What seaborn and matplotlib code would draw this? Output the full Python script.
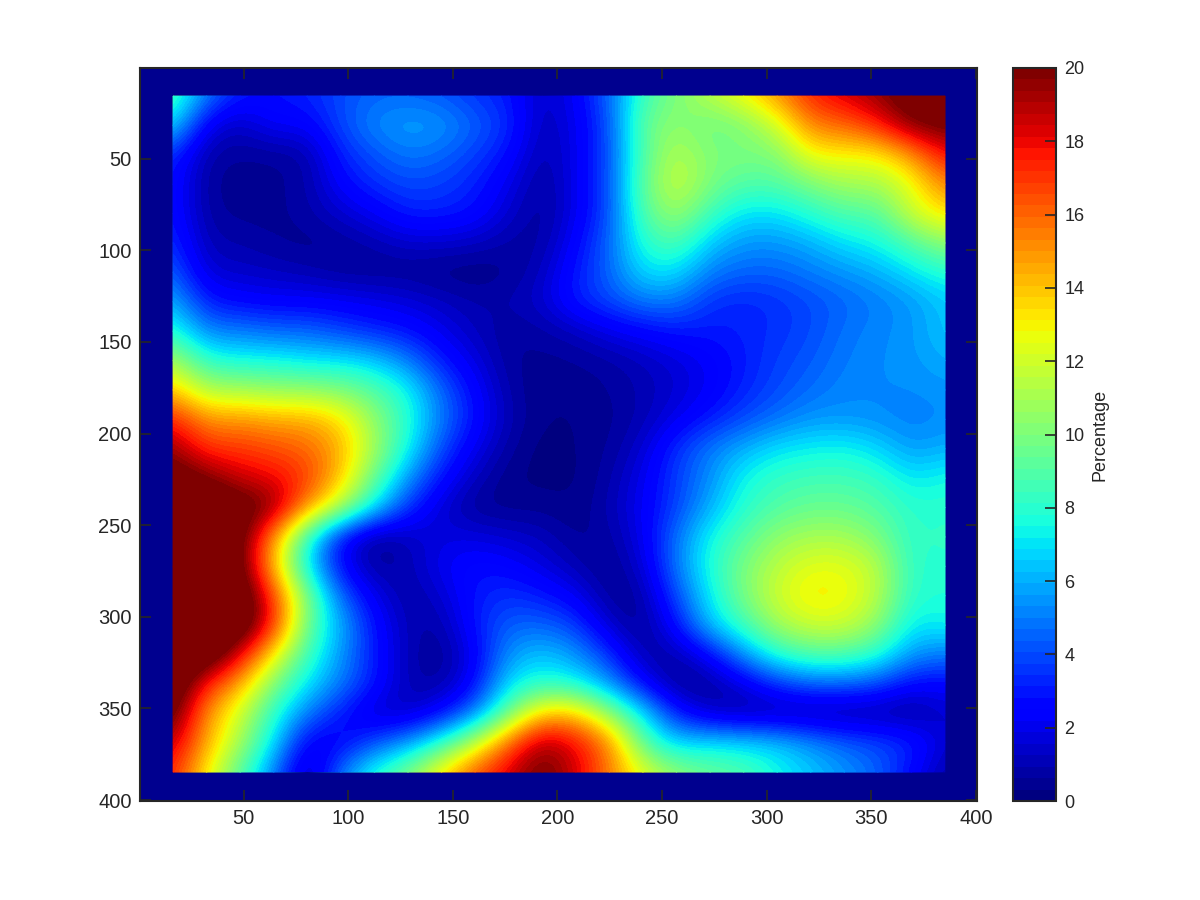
import numpy as np
import matplotlib
matplotlib.use("Agg")
import matplotlib.pyplot as plt
from matplotlib.patches import Rectangle
import seaborn as sns

# Percentage on a grid every 16 units, from 16 to 384
row_00 = [9,5,3,2.8,3.2,4,4.5,4.5,4.2,3.5,3,1.2,2.2,4.5,8.5,10,11.5,13,15,17.5,18.5,19.5,21,21]
row_01 = [7,2,1.2,2.5,2.3,4,5.3,5.8,5.6,4.5,3.5,1,2,4,9.5,10.5,9.5,10,12,15.5,16,17.5,20,20.5]
row_02 = [3.5,.8,.6,.6,.8,3.2,4.2,5,4.6,3.8,2.8,.8,2,4,9,11.5,10,10,10,13,13,13,15,18]
row_03 = [3,.6,.4,.5,.8,2.5,3.5,4,3.8,3.2,2,.6,2,4,9.5,12,10,9,9,10,11,11,12.5,15.5]
row_04 = [3,.7,.5,.5,.8,1.5,2.2,3.2,3.2,2.8,1.5,.5,2,4,9,11,8.5,7,7,8,9,9,12,13.5]
row_05 = [3.5,1,.9,.6,.4,.6,1,1.5,1.5,1.3,.8,.7,2.5,4.5,8,9,6.5,5.5,5.5,6,7,7.5,9,10.5]
row_06 = [4.5,1.5,1.4,1.2,1,.6,.5,.5,.3,.2,.5,1.2,3,4.5,7,7,5,4.5,4.5,5,5.5,6,7,8]
row_07 = [6,3,2.5,2.3,2.3,2.2,2,1.7,1.3,.9,1,1.5,3.2,4,5,5,3.5,3.2,3.5,4,4.5,5,5.5,6.5]
row_08 = [8,5,5,4.5,4.5,3.8,3.2,2.8,2,1.2,.6,.8,1.2,2,2.5,3,3,3.2,3.5,4,4.8,5.2,5.5,6.5]
row_09 = [11,8,7.5,7.5,7,7,6.5,5,3,1.8,.6,.5,.6,.8,1.2,1.7,2.3,3,3.8,4.3,5,5.3,5.5,6]
row_10 = [14,11,11,10.5,10.5,10,9,7.5,4.5,2.5,.8,.3,.4,.6,1,1.5,2.2,3.2,4,4.7,5.2,5.3,5.3,5.5]
row_11 = [17.5,15,15,14.5,14.5,13.5,10.5,8,5,2.8,1,.3,.3,.5,1,2,3,4,4.8,5.5,5.5,5.3,5,5.3]
row_12 = [19.5,17,17,16.5,16,14.5,11,7.5,4,2,.7,.1,.3,.6,1.5,3.5,5,6,7,7.3,7.5,6.8,5.5,6]
row_13 = [21,20,18.5,18,17,14,9.5,5.5,2.8,1.2,.3,.2,.2,.8,2,3.8,5.3,7.5,8.3,8.6,8.6,8.3,7,7.6]
row_14 = [22,22,21,20,15,11.5,7,3.5,1.5,.5,.4,.5,.3,1,2.2,3.8,6,8,9,9.5,9.5,9,8,8]
row_15 = [22,22,21,15,8,2.5,.4,1.2,1.8,1.8,1.5,1.2,.5,.7,2,4.8,7.5,9,10.5,11,11,10,8,8.3]
row_16 = [22,22,21,14,7,2.5,.6,1,2.2,2.8,2.5,1.8,1,.4,1.5,5,7.8,10,11.5,12.5,12.5,11.5,8,8]
row_17 = [22,22,22,17,10,4.5,2,.7,1.5,3,3.5,3,2.2,.5,.7,4,7.2,10,12,13.3,13,11.5,8,7.8]
row_18 = [22,22,22,17.5,9.5,6,2.8,1,.8,3,4.5,4.5,3.8,1.4,.4,2.8,6.5,8.5,11,12,12,10.5,7,7.5]
row_19 = [22,22,18.5,13,8.5,5.5,3,1,.4,2.2,5.5,6.5,5.5,3.5,.8,.9,2.5,5.5,8,9,9,8,5.5,5]
row_20 = [22,17.5,14.5,10,7,5,3,1,.7,2.5,7,8,7.5,5.5,2.5,.4,.6,1.8,3.5,4.5,4.5,4,2.5,2.5]
row_21 = [21,15,12,8,5,3,1.3,1.2,2.5,5,9.5,14,14,10.5,7,3,1.2,.7,.6,.5,.5,.6,.4,1.5]
row_22 = [19,14.5,11,7,2,2.2,4,5.5,8,11.5,16,19.5,18,15.5,9,6.5,7,6.8,6.5,5.5,4.5,4,3.5,1.5]
row_23 = [17.5,13,9,5,.5,5,8,10,13.5,16.5,18.5,20.5,18.5,15.5,12.5,10.5,9.5,9,7.5,6.5,5.5,4.5,2.5,.8]
rows = [row_00,row_01,row_02,row_03,row_04,row_05,row_06,row_07,row_08,row_09,row_10,row_11,
        row_12,row_13,row_14,row_15,row_16,row_17,row_18,row_19,row_20,row_21,row_22,row_23]
tick_x = [50,100,150,200,250,300,350,400]
tick_y = [50,100,150,200,250,300,350,400]
tick_cbar = list(range(0,21,2))
cbar_label = "Percentage"

INK = "#262626"
plt.rcParams["font.family"] = ["Liberation Sans", "DejaVu Sans"]

fig = plt.figure(figsize=(12,9), dpi=100)
ax = fig.add_axes([140/1200, 1-801/900, 837/1200, 733/900])
cax = fig.add_axes([1013/1200, 1-801/900, 43/1200, 733/900])

values = np.array(rows)
jet = plt.get_cmap("jet",64)
sns.heatmap(values, ax=ax, cbar_ax=cax, cmap=jet, vmin=0, vmax=20,
            shading="gouraud", xticklabels=False, yticklabels=False,
            cbar_kws={"ticks":tick_cbar})
cax.set_ylabel(cbar_label, fontsize=13, color=INK, labelpad=5)

# smooth rendering of the same grid, colour-mapped per pixel
im = ax.imshow(values, cmap=jet, vmin=0, vmax=20, aspect="auto", interpolation="bicubic",
               interpolation_stage="data", extent=(-.5,23.5,23.5,-.5), zorder=3)
im.set_clip_path(Rectangle((0,0),23,23,transform=ax.transData))

xi = lambda v: (v-16.3)/16.04
yi = lambda v: (v-15.8)/16.04
ax.set_facecolor("#00008f")
ax.set_xlim(xi(.5), xi(400.5))
ax.set_ylim(yi(400.5), yi(.5))
ax.set_xticks([xi(v) for v in tick_x], labels=tick_x)
ax.set_yticks([yi(v) for v in tick_y], labels=tick_y)
ax.tick_params(direction="in", length=8, width=1.2, top=True, right=True, color=INK,
               labelcolor=INK, labelsize=14.5, pad=6, zorder=5)
for s in ax.spines.values():
    s.set_visible(True); s.set_linewidth(1.5); s.set_color(INK); s.set_zorder(6)
cax.tick_params(direction="in", length=8, width=1.2, color=INK, labelcolor=INK, labelsize=13, pad=6, right=True)
cb = ax.collections[0].colorbar
cb.outline.set_visible(True); cb.outline.set_linewidth(1.5); cb.outline.set_edgecolor(INK)
fig.savefig("out.png", dpi=100)
